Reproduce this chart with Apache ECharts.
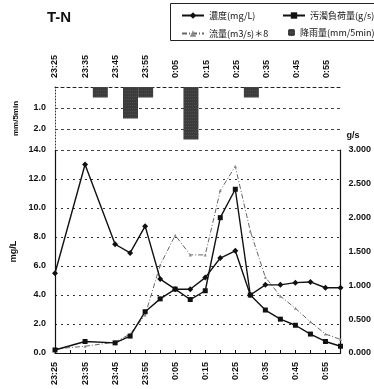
<!DOCTYPE html>
<html><head><meta charset="utf-8">
<script src="https://cdn.jsdelivr.net/npm/echarts@6/dist/echarts.min.js"></script>
<style>html,body{margin:0;padding:0;background:#fff}#c{width:374px;height:389px}</style>
</head><body><div id="c"></div>
<script>
const times = ['23:25','23:30','23:35','23:40','23:45','23:50','23:55','0:00','0:05','0:10','0:15','0:20','0:25','0:30','0:35','0:40','0:45','0:50','0:55','1:00'];
const concentration = [5.5,null,13.0,null,7.5,6.9,8.75,5.1,4.4,4.4,5.2,6.55,7.05,4.0,4.7,4.7,4.85,4.9,4.5,4.5];
const load = [0.045,null,0.17,null,0.15,0.25,0.61,0.80,0.945,0.79,0.92,2.0,2.42,0.857,0.635,0.50,0.41,0.28,0.17,0.10];
const flow8 = [0.06,null,0.10,null,0.16,0.28,0.56,1.3,1.74,1.45,1.45,2.4,2.76,1.8,1.12,0.84,0.66,0.46,0.28,0.2];
const rain = [0,0,0,0.5,0,1.5,0.5,0,0,2.5,0,0,0,0.5,0,0,0,0,0,0];
const rainTicks = [1,2];

const F = "'Liberation Sans', Arial, sans-serif";
const CJK = "'Noto Sans CJK JP', sans-serif";
const chart = echarts.init(document.getElementById('c'));
const lab = {fontFamily:F, fontSize:9, fontWeight:'bold', color:'#111'};
const legTxt = {fontFamily:CJK, fontSize:9, color:'#111'};
chart.setOption({
  animation:false,
  backgroundColor:'#fff',
  title:{text:'T-N', left:42, top:5, textStyle:{fontFamily:F, fontSize:15, fontWeight:'bold', color:'#111'}},
  graphic:[{type:'rect', shape:{x:170.5,y:3.5,width:210,height:37}, style:{fill:'none', stroke:'#222', lineWidth:1}}],
  legend:[
    {data:['濃度(mg/L)'], left:176, top:6, itemWidth:22, itemHeight:8, textStyle:legTxt},
    {data:['汚濁負荷量(g/s)'], left:277, top:6, itemWidth:22, itemHeight:8, textStyle:legTxt},
    {data:['流量(m3/s)＊8'], left:176, top:24, itemWidth:22, itemHeight:8, textStyle:legTxt},
    {data:['降雨量(mm/5min)'], left:283, top:23, itemWidth:7, itemHeight:7, textStyle:legTxt}
  ],
  grid:[
    {left:55, right:32, top:150, bottom:36},
    {left:55, right:32, top:87, height:63}
  ],
  xAxis:[
    {type:'category', gridIndex:0, data:times, boundaryGap:false,
     axisLine:{lineStyle:{color:'#111', width:1.2}},
     axisTick:{inside:true, length:3, interval:0, lineStyle:{color:'#111'}},
     axisLabel:Object.assign({rotate:90, interval:1, margin:9}, lab),
     splitLine:{show:false}},
    {type:'category', gridIndex:1, data:times, boundaryGap:false, position:'top',
     axisLine:{lineStyle:{color:'#222', type:[3,3]}},
     axisTick:{show:false},
     axisLabel:Object.assign({rotate:90, interval:1, margin:9}, lab),
     splitLine:{show:false}}
  ],
  yAxis:[
    {type:'value', gridIndex:0, min:0, max:14, interval:2,
     name:'mg/L', nameLocation:'middle', nameGap:33, nameRotate:90,
     nameTextStyle:{fontFamily:F, fontSize:9, fontWeight:'bold', color:'#111'},
     axisLine:{show:true, lineStyle:{color:'#111', width:1.2}},
     axisTick:{show:false},
     axisLabel:Object.assign({margin:9, formatter:v=>v.toFixed(1)}, lab),
     splitLine:{show:true, lineStyle:{color:'#333', type:[2,4]}}},
    {type:'value', gridIndex:0, min:0, max:3, interval:0.5, position:'right',
     name:'g/s', nameLocation:'end', nameGap:10,
     nameTextStyle:{fontFamily:F, fontSize:9, fontWeight:'bold', color:'#111', align:'left', padding:[0,0,0,6]},
     axisLine:{show:true, lineStyle:{color:'#111', width:1.2}},
     axisTick:{show:false},
     axisLabel:Object.assign({margin:8, formatter:v=>v.toFixed(3)}, lab),
     splitLine:{show:false}},
    {type:'value', gridIndex:1, min:0, max:3, interval:1, inverse:true,
     name:'mm/5min', nameLocation:'middle', nameGap:35, nameRotate:90,
     nameTextStyle:{fontFamily:F, fontSize:8, fontWeight:'bold', color:'#111'},
     axisLine:{show:true, lineStyle:{color:'#333', type:[1,2]}},
     axisTick:{show:false},
     axisLabel:Object.assign({margin:9, formatter:v=>rainTicks.includes(v)?v.toFixed(1):''}, lab),
     splitLine:{show:true, showMinLine:false, showMaxLine:true, lineStyle:{color:'#444', type:[3,3]}}}
  ],
  series:[
    {name:'降雨量(mm/5min)', type:'bar', xAxisIndex:1, yAxisIndex:2, data:rain, barWidth:15,
     itemStyle:{color:'#3c3c3c', decal:{symbol:'rect', symbolSize:0.5, color:'rgba(255,255,255,0.35)', dashArrayX:[1,1], dashArrayY:[1,2]}}},
    {name:'流量(m3/s)＊8', type:'line', xAxisIndex:0, yAxisIndex:1, data:flow8, connectNulls:true,
     symbol:'triangle', symbolSize:3, lineStyle:{color:'#666', width:1, type:[5,2,1,2]}, itemStyle:{color:'#888'}},
    {name:'汚濁負荷量(g/s)', type:'line', xAxisIndex:0, yAxisIndex:1, data:load, connectNulls:true,
     symbol:'rect', symbolSize:5, lineStyle:{color:'#111', width:1.4}, itemStyle:{color:'#111'}},
    {name:'濃度(mg/L)', type:'line', xAxisIndex:0, yAxisIndex:0, data:concentration, connectNulls:true,
     symbol:'diamond', symbolSize:6, lineStyle:{color:'#111', width:1.4}, itemStyle:{color:'#111'}}
  ]
});
</script></body></html>
